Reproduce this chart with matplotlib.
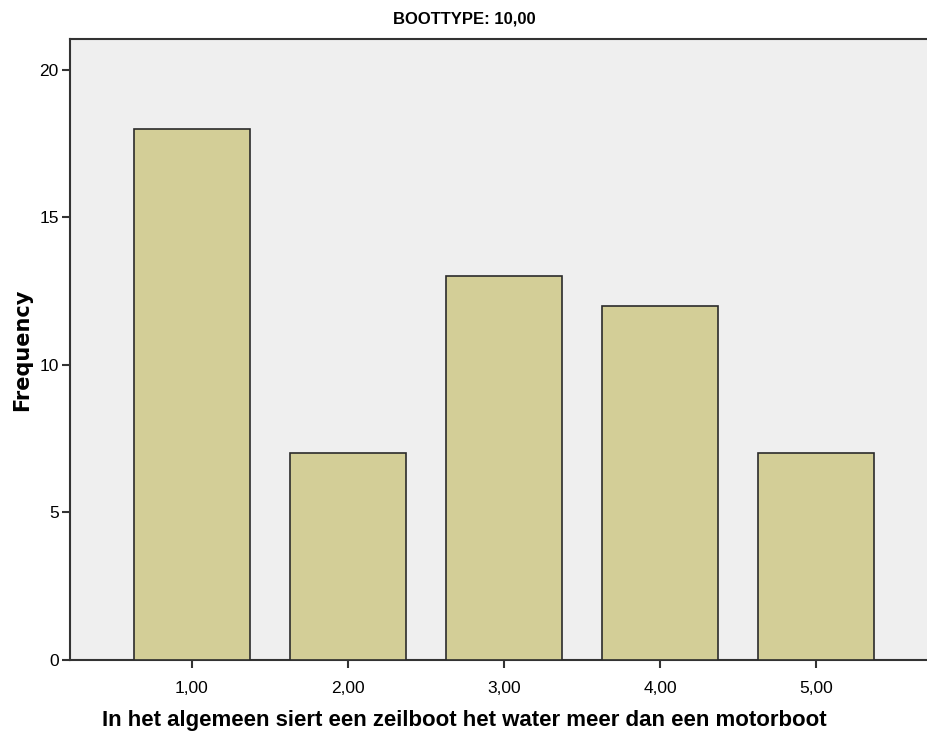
import matplotlib
matplotlib.use('Agg')
import matplotlib.pyplot as plt

# data
categories = ['1,00', '2,00', '3,00', '4,00', '5,00']
positions = [1, 2, 3, 4, 5]
frequencies = [18, 7, 13, 12, 7]
yticks = [0, 5, 10, 15, 20]

plt.rcParams['font.family'] = ['Liberation Sans', 'DejaVu Sans']

fig = plt.figure(figsize=(9.28, 7.45), dpi=100)
ax = fig.add_axes([0.0754, 0.1141, 0.9246, 0.8336])
ax.set_facecolor('#efefef')

ax.bar(positions, frequencies, width=0.744, color='#d3ce97',
       edgecolor='#2b2b2b', linewidth=1.2, zorder=3)

ax.set_xlim(0.218, 5.718)
ax.set_ylim(0, 21.05)
ax.set_xticks(positions)
ax.set_xticklabels(categories, fontsize=12.5)
ax.set_yticks(yticks)
ax.set_yticklabels([str(v) for v in yticks], fontsize=12.5)
ax.tick_params(direction='out', length=6, width=1.5, color='#333333')
ax.tick_params(axis='x', pad=9)
ax.tick_params(axis='y', pad=2)

for side in ['left', 'bottom', 'top']:
    ax.spines[side].set_color('#333333')
    ax.spines[side].set_linewidth(1.5)
ax.spines['right'].set_visible(False)

fig.text(0.5, 0.975, 'BOOTTYPE: 10,00', ha='center', va='center',
         fontsize=12, fontweight='bold')
fig.text(0.024, 0.53, 'Frequency', ha='center', va='center', rotation=90,
         fontsize=15, fontweight='bold', family='DejaVu Sans')
fig.text(0.5, 0.033, 'In het algemeen siert een zeilboot het water meer dan een motorboot',
         ha='center', va='center', fontsize=16, fontweight='bold')

fig.savefig('out.png', dpi=100)
